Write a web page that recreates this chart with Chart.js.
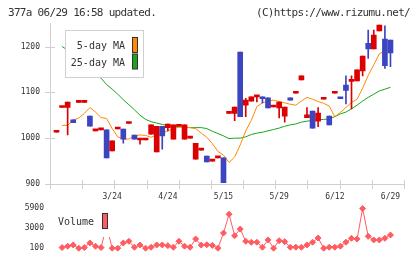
<!DOCTYPE html>
<html>
<head>
<meta charset="utf-8">
<script src="https://cdn.jsdelivr.net/npm/chart.js@4.4.1/dist/chart.umd.min.js"></script>
<style>
  body { margin: 0; background: #fff; }
  #wrap { position: relative; width: 420px; height: 259px; overflow: hidden; background: #fff; }
  #wrap canvas { position: absolute; left: 0; top: 0; }
  .head { position: absolute; top: 6px; font: 11px "DejaVu Sans Mono", monospace; letter-spacing: -0.7px;
          color: #333; line-height: 13px; white-space: nowrap; }
</style>
</head>
<body>
<div id="wrap">
  <canvas id="main" width="420" height="259"></canvas>
  <canvas id="vol" width="420" height="259"></canvas>
  <div class="head" style="left:8px">377a 06/29 16:58 updated.</div>
  <div class="head" style="right:10px">(C)https://www.rizumu.net/</div>
</div>
<script>
// axis labels
const dateLabels = ['3/24', '4/24', '5/15', '5/29', '6/12', '6/29'];
const dateIdx = [10, 20, 30, 40, 50, 60];
const priceTicks = [900, 1000, 1100, 1200];
const volTicks = [100, 3000, 5900];

// daily candles
const opens  = [1013,1067,1067,1040,1078,1078,1048,1016,1018,1018, 972,1020,1020,1032,1007, 996, 996,1009, 970,1026,
                1023, 998,1026, 998,1000, 954, 974, 961, 950, 957, 957,1054,1054,1188,1072,1081,1090,1090,1088,1068,
                1066,1048,1088,1098,1127,1045,1059,1037,1085,1048,1098,1089,1116,1124,1125,1147,1207,1195,1234,1216,1214];
const closes = [1013,1067,1079,1034,1078,1078,1026,1016,1018, 957, 994,1020, 998,1032, 998, 996, 996,1029,1026,1005,
                1031,1029,1026,1029,1000, 989, 974, 948, 950, 957, 903,1054,1068,1047,1083,1090,1090,1086,1066,1068,
                1079,1068,1083,1098,1136,1051,1022,1055,1085,1029,1098,1086,1104,1127,1149,1179,1195,1225,1247,1158,1186];
const highs  = [1013,1067,1079,1040,1078,1078,1048,1016,1018,1018, 994,1020,1020,1032,1007, 996, 996,1029,1026,1026,
                1031,1029,1026,1029,1000, 989, 974, 961, 950, 957, 957,1054,1068,1188,1087,1090,1090,1090,1088,1068,
                1079,1068,1088,1098,1136,1067,1059,1067,1085,1048,1098,1089,1136,1136,1149,1179,1236,1236,1247,1245,1214];
const lows   = [1013,1067,1007,1034,1078,1078,1026,1016,1018, 957, 972,1020, 989,1032, 998, 987, 996,1009, 970, 976,
                1016, 998,1026, 998,1000, 954, 974, 948, 950, 957, 903,1054,1038,1047,1047,1081,1079,1077,1066,1068,
                1044,1035,1083,1098,1127,1045,1022,1025,1085,1029,1098,1086,1075,1064,1125,1136,1174,1195,1234,1152,1156];

const ma5  = [null,1028,1028,1039,1044,1054,1067,1057,1045,1043,1021,1003, 998, 998,1005,1007,1006,1002,1007,1011,
              1016,1021,1024,1024,1023,1021,1011,1002, 988, 971, 963, 947, 959, 985,1016,1039,1069,1077,1081,1083,
              1080,1077,1074,1072,1081,1089,1085,1080,1076,1070,1047,1056,1067,1078,1085,1109,1137,1160,1184,1191,1193];
const ma25 = [null,1200,1192,1183,1173,1163,1153,1142,1131,1117,1107,1096,1084,1073,1062,1050,1041,1036,1033,1030,
              1028,1026,1025,1024,1023,1023,1023,1021,1015,1010,1005, 999,1000,1000,1003,1008,1011,1013,1016,1019,
              1022,1026,1029,1031,1035,1037,1039,1040,1041,1042,1047,1053,1057,1064,1072,1081,1089,1096,1103,1107,1111];
const volume = [null, 190, 390, 570, 100, 190, 860, 390, 190,3300, 100, 100, 860,1100, 240, 570, 100, 240, 570, 570,
                470, 240,1100, 390, 240,1430, 550, 600, 500, 100,2290,5000,1900,2860,1100, 960, 960, 240,1290, 100,
                1190,1040, 240, 240, 240, 570, 960,1570, 100, 240, 240, 390, 960,1530,1430,5820,1810,1290,1290,1530,2000];

const RED = '#dd0000', BLUE = '#3c44c0', ORANGE = '#ff8a00', GREEN = '#1aa51a', CORAL = '#ff5c62';
const AXIS = '#cfcfcf';
const xMin = -1.17, xMax = 62.43;
const tickFont = { family: 'DejaVu Sans Mono', size: 8 };

const candleColor = closes.map((c, i) => c < opens[i] ? BLUE : RED);

// little cross ticks on both axes
const tickMarks = {
  id: 'tickMarks',
  afterDraw(chart) {
    const { ctx, chartArea: a, scales: { y } } = chart;
    ctx.save();
    ctx.strokeStyle = AXIS;
    ctx.lineWidth = 1;
    ctx.beginPath();
    priceTicks.forEach(v => {
      const py = Math.round(y.getPixelForValue(v)) + 0.5;
      ctx.moveTo(a.left - 5, py); ctx.lineTo(a.left + 5, py);
    });
    for (let k = 0; k <= 11; k++) {
      const px = Math.round(a.left + (a.right - a.left) * k / 11) + 0.5;
      ctx.moveTo(px, a.bottom - 4); ctx.lineTo(px, a.bottom + 5);
    }
    ctx.stroke();
    ctx.restore();
  }
};

const maLegend = {
  id: 'maLegend',
  afterDatasetsDraw(chart) {
    const ctx = chart.ctx;
    const items = chart.data.datasets.filter(d => d.type === 'line');
    ctx.save();
    ctx.fillStyle = '#fff';
    ctx.fillRect(65.5, 30.5, 78, 47);
    ctx.strokeStyle = '#d0d0d0';
    ctx.strokeRect(65.5, 30.5, 78, 47);
    ctx.font = '10px "DejaVu Sans Mono"';
    ctx.textAlign = 'right';
    ctx.textBaseline = 'middle';
    items.forEach((d, k) => {
      const cy = 46.5 + k * 16.5;
      ctx.fillStyle = '#333';
      ctx.fillText(d.label, 125, cy);
      ctx.fillStyle = d.borderColor;
      ctx.fillRect(132, 37.5 + k * 16.5, 5, 15);
      ctx.strokeStyle = '#333';
      ctx.strokeRect(132.5, 37.5 + k * 16.5, 5, 15);
    });
    ctx.restore();
  }
};

const volLegend = {
  id: 'volLegend',
  afterDatasetsDraw(chart) {
    const ctx = chart.ctx;
    ctx.save();
    ctx.fillStyle = '#fff';
    ctx.fillRect(53, 205, 60, 32);
    ctx.font = '10px "DejaVu Sans Mono"';
    ctx.textAlign = 'left';
    ctx.textBaseline = 'middle';
    ctx.fillStyle = '#333';
    ctx.fillText(chart.data.datasets[0].label, 58, 222);
    ctx.fillStyle = CORAL;
    ctx.fillRect(102, 213.5, 5, 15);
    ctx.strokeStyle = '#333';
    ctx.strokeRect(102.5, 213.5, 5, 15);
    ctx.restore();
  }
};

new Chart(document.getElementById('main'), {
  type: 'bar',
  data: {
    datasets: [
      { label: 'wick', data: lows.map((l, i) => ({ x: i, y: [l, highs[i]] })),
        backgroundColor: candleColor, barThickness: 1, grouped: false, order: 1 },
      { label: 'body', data: opens.map((o, i) => ({ x: i, y: [o, closes[i]] })),
        backgroundColor: candleColor, barThickness: 5, minBarLength: 2, grouped: false, order: 0 },
      { type: 'line', label: '5-day MA', data: ma5.map((v, i) => ({ x: i, y: v })),
        borderColor: ORANGE, borderWidth: 1, pointRadius: 0, tension: 0, order: 2 },
      { type: 'line', label: '25-day MA', data: ma25.map((v, i) => ({ x: i, y: v })),
        borderColor: GREEN, borderWidth: 1, pointRadius: 0, tension: 0, order: 3 }
    ]
  },
  options: {
    responsive: false,
    animation: false,
    devicePixelRatio: 1,
    layout: { padding: { left: 0, right: 16, top: 23.6, bottom: 55 } },
    plugins: { legend: { display: false }, tooltip: { enabled: false } },
    scales: {
      x: {
        type: 'linear', min: xMin, max: xMax, offset: false,
        grid: { display: false, drawTicks: false },
        border: { display: true, color: AXIS },
        afterBuildTicks: s => { s.ticks = dateIdx.map(v => ({ value: v })); },
        afterFit: s => { s.height = 20; },
        ticks: {
          autoSkip: false, maxRotation: 0, padding: 8, color: '#333', font: tickFont,
          callback: v => { const k = dateIdx.indexOf(v); return k < 0 ? '' : dateLabels[k]; }
        }
      },
      y: {
        min: 900, max: 1250,
        grid: { display: false, drawTicks: false },
        border: { display: true, color: AXIS },
        afterBuildTicks: s => { s.ticks = priceTicks.map(v => ({ value: v })); },
        afterFit: s => { s.width = 50; },
        ticks: { padding: 10, color: '#333', font: tickFont, callback: v => String(v) }
      }
    }
  },
  plugins: [tickMarks, maLegend]
});

new Chart(document.getElementById('vol'), {
  type: 'line',
  data: {
    datasets: [{
      label: 'Volume', data: volume.map((v, i) => ({ x: i, y: v })),
      borderColor: CORAL, backgroundColor: CORAL, borderWidth: 1, tension: 0,
      pointStyle: 'rectRot', pointRadius: 3, pointBorderWidth: 1,
      pointBackgroundColor: CORAL, pointBorderColor: CORAL, clip: false
    }]
  },
  options: {
    responsive: false,
    animation: false,
    devicePixelRatio: 1,
    layout: { padding: { left: 0, right: 16, top: 208, bottom: 9.7 } },
    plugins: { legend: { display: false }, tooltip: { enabled: false } },
    scales: {
      x: { type: 'linear', min: xMin, max: xMax, display: false },
      y: {
        min: 100, max: 5900,
        grid: { display: false, drawTicks: false },
        border: { display: false },
        afterBuildTicks: s => { s.ticks = volTicks.map(v => ({ value: v })); },
        afterFit: s => { s.width = 50; },
        ticks: { padding: 6, color: '#333', font: tickFont, callback: v => String(v) }
      }
    }
  },
  plugins: [volLegend]
});
</script>
</body>
</html>
